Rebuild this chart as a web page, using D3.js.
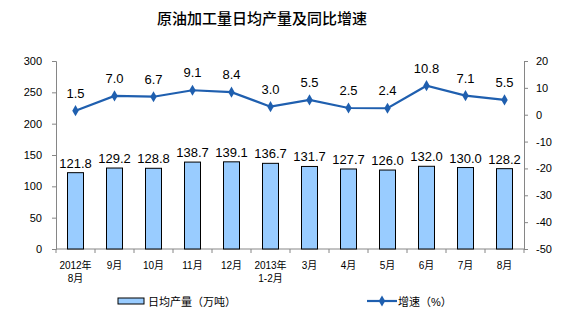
<!DOCTYPE html>
<html><head><meta charset="utf-8">
<script src="https://cdn.jsdelivr.net/npm/d3@7/dist/d3.min.js"></script>
<style>body{margin:0;background:#fff}svg{display:block}text{font-family:Arial,"Liberation Sans","Noto Sans CJK SC",sans-serif}</style>
</head><body>
<script>
const categories = ["2012年\n8月","9月","10月","11月","12月","2013年\n1-2月","3月","4月","5月","6月","7月","8月"];
const output = [121.8,129.2,128.8,138.7,139.1,136.7,131.7,127.7,126.0,132.0,130.0,128.2];
const growth = [1.5,7.0,6.7,9.1,8.4,3.0,5.5,2.5,2.4,10.8,7.1,5.5];
const leftTicks = [0,50,100,150,200,250,300];
const rightTicks = [-50,-40,-30,-20,-10,0,10,20];

const W=562,H=325, L=56, R=524, T=61, B=249;
const svg=d3.select("body").append("svg").attr("width",W).attr("height",H);
svg.append("text").attr("x",262).attr("y",24).attr("text-anchor","middle")
  .attr("font-size",15).attr("font-weight",500).attr("font-family","'Noto Sans CJK SC',sans-serif").attr("fill","#000").text("原油加工量日均产量及同比增速");

const x=d3.scaleBand().domain(categories).range([L,R]);
const yL=d3.scaleLinear().domain([0,300]).range([B,T]);
const yR=d3.scaleLinear().domain([-50,20]).range([B,T]);

const axL=svg.append("g").attr("transform",`translate(${L},0)`).call(d3.axisLeft(yL).tickValues(leftTicks).tickSize(4).tickPadding(10).tickFormat(d=>String(d)));
const axR=svg.append("g").attr("transform",`translate(${R},0)`).call(d3.axisRight(yR).tickValues(rightTicks).tickSize(4).tickPadding(8).tickFormat(d=>String(d)));
[axL,axR].forEach(a=>{a.selectAll("path,line").attr("stroke","#868686");a.selectAll("text").attr("font-size",11).attr("fill","#000");});

// x axis
const gx=svg.append("g");
gx.append("line").attr("x1",L).attr("x2",R).attr("y1",B).attr("y2",B).attr("stroke","#868686");
gx.selectAll("line.t").data(d3.range(categories.length+1)).join("line").attr("class","t")
  .attr("x1",i=>L+i*x.step()).attr("x2",i=>L+i*x.step()).attr("y1",B).attr("y2",B+4).attr("stroke","#868686");
gx.selectAll("text.xl").data(categories).join("text").attr("class","xl")
  .attr("x",d=>x(d)+x.bandwidth()/2).attr("y",269).attr("text-anchor","middle")
  .attr("font-size",10).attr("font-family","'Noto Sans CJK SC',sans-serif").attr("fill","#000")
  .each(function(d){const p=d.split("\n");const xx=x(d)+x.bandwidth()/2;d3.select(this).selectAll("tspan").data(p).join("tspan")
    .attr("x",xx).attr("dy",(s,i)=>i?13:0).text(s=>s);});

const bw=16;
svg.selectAll("rect.bar").data(output).join("rect").attr("class","bar")
  .attr("x",(d,i)=>x(categories[i])+x.bandwidth()/2-bw/2).attr("width",bw)
  .attr("y",d=>yL(d)).attr("height",d=>B-yL(d)).attr("fill","#99CCFF").attr("stroke","#000").attr("stroke-width",1);
svg.selectAll("text.bl").data(output).join("text").attr("class","bl")
  .attr("x",(d,i)=>x(categories[i])+x.bandwidth()/2).attr("y",d=>yL(d)-5).attr("text-anchor","middle")
  .attr("font-size",13).attr("fill","#000").text(d=>d.toFixed(1));

const cx=i=>x(categories[i])+x.bandwidth()/2;
const line=d3.line().x((d,i)=>cx(i)).y(d=>yR(d));
svg.append("path").datum(growth).attr("d",line).attr("fill","none").attr("stroke","#1F5FAF").attr("stroke-width",2.2);
svg.selectAll("path.mk").data(growth).join("path").attr("class","mk")
  .attr("d",d3.symbol(d3.symbolDiamond,36)).attr("transform",(d,i)=>`translate(${cx(i)},${yR(d)})`).attr("fill","#1F5FAF");
svg.selectAll("text.ll").data(growth).join("text").attr("class","ll")
  .attr("x",(d,i)=>cx(i)).attr("y",d=>yR(d)-13).attr("text-anchor","middle")
  .attr("font-size",13).attr("fill","#000").text(d=>d.toFixed(1));

// legend
svg.append("rect").attr("x",118).attr("y",298).attr("width",26).attr("height",6).attr("fill","#99CCFF").attr("stroke","#000");
svg.append("text").attr("x",148).attr("y",306).attr("font-size",11).attr("font-family","'Noto Sans CJK SC',sans-serif").text("日均产量（万吨）");
svg.append("line").attr("x1",367).attr("x2",397).attr("y1",301).attr("y2",301).attr("stroke","#1F5FAF").attr("stroke-width",2.2);
svg.append("path").attr("d",d3.symbol(d3.symbolDiamond,36)).attr("transform","translate(382,301)").attr("fill","#1F5FAF");
svg.append("text").attr("x",398).attr("y",306).attr("font-size",11).attr("font-family","'Noto Sans CJK SC',sans-serif").text("增速（%）");
</script>
</body></html>
